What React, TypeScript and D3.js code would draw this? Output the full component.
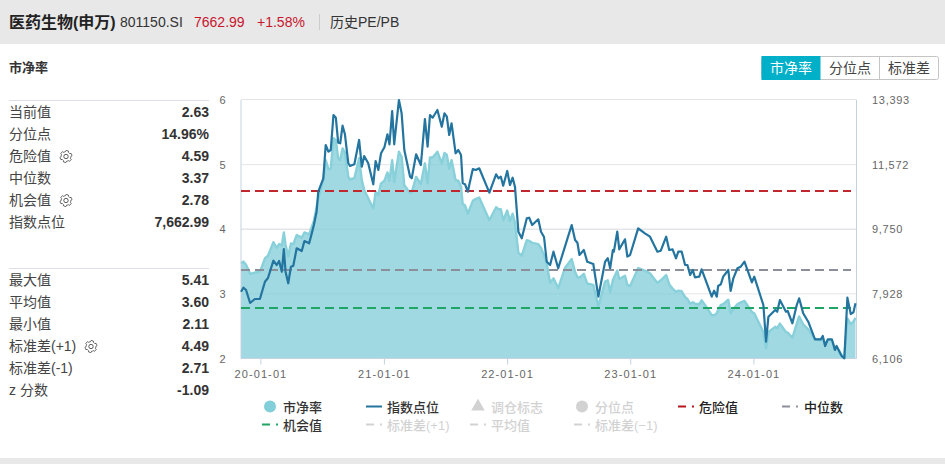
import React from "react";
import * as d3 from "d3";

const START = new Date(2019, 10, 3);
const dayOffsets = [
0,7,15,27,41,56,71,80,96,106,113,121,127,132,140,148,155,165,180,188,202,210,216,224,229,244,251,259,266,274,
281,288,294,301,308,318,323,336,350,358,365,377,392,399,407,415,425,434,440,448,454,468,476,484,501,506,519,533,545,553,
560,568,582,595,603,610,617,624,636,644,652,657,664,672,687,696,706,736,756,763,770,777,789,797,805,812,822,832,847,854,
863,881,889,898,906,916,926,940,960,980,990,997,1003,1016,1026,1044,1059,1079,1087,1094,1102,1105,1115,1121,1138,1145,1153,1177,1197,1212,
1234,1244,1260,1269,1279,1289,1296,1306,1316,1323,1331,1339,1345,1358,1365,1375,1395,1402,1410,1414,1422,1429,1444,1451,1459,1471,1481,1492,1514,1521,
1548,1556,1563,1583,1589,1597,1615,1620,1634,1647,1654,1666,1681,1701,1718,1724,1731,1739,1751,1760,1765,1780,1788,1797,1807,1815,1821,
];
const indexValues = [
7989,8102,8037,7671,7783,7783,8271,8375,8863,8742,8855,8553,9193,8553,8226,8694,8722,9213,9136,9418,9354,9644,9869,10244,10808,11186,12125,11936,11984,12970,
12894,12189,12172,12669,12426,11609,11533,11581,12266,11513,11814,11609,11017,11674,11420,11891,12060,12426,12144,13083,12144,13393,13018,11984,11231,11186,11862,11561,12858,12077,
12970,12894,13111,12641,13018,12922,12406,12736,11891,11984,11843,11045,11017,10808,11448,11420,11468,10780,11299,11186,11231,10977,11392,10997,11203,10941,9681,9494,10058,10075,
9869,10030,9681,9531,8835,8742,9117,8649,9258,9869,9447,9370,9024,9165,8835,8770,7848,8835,8931,8649,9165,9117,9681,9184,9466,8976,9024,9776,9635,9540,
9117,9145,9540,9165,9184,8931,9117,9117,8742,8742,8460,8601,8395,8412,8621,8367,7848,8017,7848,8150,8198,8412,8601,8009,8367,8649,8694,8835,8254,8412,
7614,6580,7284,7473,7425,7755,7425,7445,7098,7614,7803,7380,7143,6647,6647,6740,6458,6647,6647,6346,6458,6176,6111,7820,7360,7408,7662,
];
const pbValues = [
3.47,3.5,3.45,3.31,3.33,3.34,3.55,3.59,3.8,3.71,3.77,3.75,3.95,3.76,3.58,3.78,3.77,3.91,3.87,3.95,3.92,4.04,4.13,4.34,4.48,4.76,5.07,4.93,4.94,5.41,
5.38,5.1,5.07,5.25,5.19,4.81,4.77,4.79,5.1,4.76,4.61,4.48,4.32,4.58,4.53,4.71,4.75,4.88,4.75,5.07,4.73,5.2,5.12,4.68,4.56,4.57,4.81,4.7,5.02,4.71,
5.11,5.11,5.2,5.02,5.18,5.15,4.94,5.07,4.76,4.75,4.66,4.39,4.37,4.24,4.44,4.47,4.49,4.14,4.34,4.31,4.31,4.14,4.29,4.13,4.24,4.1,3.64,3.59,3.83,3.82,
3.79,3.77,3.71,3.6,3.47,3.17,3.24,3.09,3.4,3.54,3.34,3.26,3.25,3.31,3.16,3.14,2.81,3.19,3.21,3.03,3.21,3.25,3.36,3.23,3.28,3.14,3.12,3.4,3.36,3.32,
3.17,3.21,3.29,3.15,3.08,3.03,3.05,3.04,2.95,2.92,2.85,2.87,2.85,2.84,2.9,2.83,2.67,2.67,2.7,2.75,2.83,2.84,2.91,2.7,2.77,2.84,2.87,2.89,2.72,2.7,
2.41,2.16,2.41,2.49,2.47,2.54,2.41,2.4,2.32,2.54,2.65,2.53,2.45,2.3,2.29,2.32,2.22,2.29,2.28,2.16,2.18,2.05,2.02,2.62,2.53,2.57,2.63,
];
const DOMAIN_DAYS = 1824;
const pbTicks = [2, 3, 4, 5, 6];
const indexTicks = [6106, 7928, 9750, 11572, 13393];
const xTicks = [new Date(2020, 0, 1), new Date(2021, 0, 1), new Date(2022, 0, 1), new Date(2023, 0, 1), new Date(2024, 0, 1)];
const thresholds = [
  { value: 4.59, color: "#c0282d" },
  { value: 3.37, color: "#8a8f99" },
  { value: 2.78, color: "#1fa565" },
];
const statsTop = [
  ["当前值", "2.63", false], ["分位点", "14.96%", false], ["危险值", "4.59", true],
  ["中位数", "3.37", false], ["机会值", "2.78", true], ["指数点位", "7,662.99", false],
] as const;
const statsBottom = [
  ["最大值", "5.41", false], ["平均值", "3.60", false], ["最小值", "2.11", false],
  ["标准差(+1)", "4.49", true], ["标准差(-1)", "2.71", false], ["z 分数", "-1.09", false],
] as const;
const buttons = ["市净率", "分位点", "标准差"];

const FONT = "'Liberation Sans','Noto Sans CJK SC',sans-serif";
const L = 241, R = 856.5, T = 100, B = 358.5;

const dayToDate = (d: number) => d3.timeDay.offset(START, d);
const x = d3.scaleTime().domain([START, dayToDate(DOMAIN_DAYS)]).range([L, R]);
const yPB = d3.scaleLinear().domain([2, 6]).range([B, T]);
const yIdx = d3.scaleLinear().domain([6106, 13393]).range([B, T]);
const fmtTick = d3.timeFormat("%y-%m-%d");
const fmtComma = d3.format(",");

const areaGen = d3.area<number>()
  .x((_, i) => x(dayToDate(dayOffsets[i])))
  .y0(B)
  .y1((d) => yPB(d));
const pbLine = d3.line<number>()
  .x((_, i) => x(dayToDate(dayOffsets[i])))
  .y((d) => yPB(d));
const idxLine = d3.line<number>()
  .x((_, i) => x(dayToDate(dayOffsets[i])))
  .y((d) => yIdx(d));

const gearAngles = d3.range(0, 48);
const gearPath = d3.lineRadial<number>()
  .angle((i) => (i / 48) * 2 * Math.PI)
  .radius((i) => (i % 8 < 4 ? 6 : 4.8))
  .curve(d3.curveLinearClosed)(gearAngles) ?? "";

function Gear({ cx, cy }: { cx: number; cy: number }) {
  return (
    <g fill="none" stroke="#5c5c5c" strokeWidth={1} transform={`translate(${cx},${cy})`}>
      <path d={gearPath} />
      <circle r={2.2} />
    </g>
  );
}

function Stats({ rows, top }: { rows: readonly (readonly [string, string, boolean])[]; top: number }) {
  return (
    <g>
      <line x1={9} x2={209} y1={top + 0.5} y2={top + 0.5} stroke="#dcdfe3" strokeWidth={1} />
      {rows.map((r, i) => {
        const cy = top + 12 + i * 22;
        const labelW = r[0].startsWith("标准差") ? 82 : 57;
        return (
          <g key={r[0]}>
            <text x={9} y={cy + 5} fontSize={14} fill="#444">{r[0]}</text>
            <text x={209} y={cy + 5} fontSize={14} fontWeight={700} fill="#333" textAnchor="end">{r[1]}</text>
            {r[2] && <Gear cx={9 + labelW} cy={cy + 0.5} />}
          </g>
        );
      })}
    </g>
  );
}

function DashKey({ x0, y0, color }: { x0: number; y0: number; color: string }) {
  return (
    <g stroke={color} strokeWidth={2}>
      <line x1={x0} x2={x0 + 8} y1={y0} y2={y0} />
      <line x1={x0 + 14} x2={x0 + 16} y1={y0} y2={y0} />
    </g>
  );
}

export default function App() {
  const r1 = 406.5, r2 = 424.5;
  const off = "#d2d2d2";
  const areaD = areaGen(pbValues) ?? "";
  return (
    <svg width={945} height={464} style={{ position: "absolute", left: 0, top: 0, display: "block" }} fontFamily={FONT}>
      <defs>
        <clipPath id="pb-area"><path d={areaD} /></clipPath>
      </defs>
      <rect width={945} height={464} fill="#fff" />
      <rect width={945} height={44} fill="#e8e8e8" />
      <rect y={458} width={945} height={6} fill="#e8e8e8" />
      <text x={9} y={28} fontSize={16} fontWeight={700} fill="#222">医药生物(申万)</text>
      <text x={120} y={27} fontSize={14} fill="#333">801150.SI</text>
      <text x={194} y={27} fontSize={14} fill="#c7162e">7662.99</text>
      <text x={257} y={27} fontSize={14} fill="#c7162e">+1.58%</text>
      <line x1={319.5} x2={319.5} y1={14} y2={30} stroke="#ccc" />
      <text x={330} y={27} fontSize={14} fill="#333">历史PE/PB</text>
      <text x={9} y={72} fontSize={13} fontWeight={700} fill="#333">市净率</text>

      <rect x={761.5} y={56.5} width={177} height={23} rx={2} fill="#fff" stroke="#c4c4c4" />
      <rect x={761.5} y={56} width={59} height={24} fill="#00b0c9" />
      <line x1={879.5} x2={879.5} y1={56} y2={80} stroke="#c4c4c4" />
      {buttons.map((b, i) => (
        <text key={b} x={791 + i * 59} y={73} fontSize={14} textAnchor="middle" fill={i === 0 ? "#fff" : "#444"}>{b}</text>
      ))}

      <Stats rows={statsTop} top={100} />
      <Stats rows={statsBottom} top={268} />

      {/* grid */}
      <line x1={L} x2={R} y1={99.5} y2={99.5} stroke="#e2e4e8" />
      {pbTicks.slice(1, 4).map((t) => (
        <line key={t} x1={L} x2={R} y1={yPB(t)} y2={yPB(t)} stroke="#e3e5e9" strokeWidth={t === 4 ? 1.5 : 1} />
      ))}

      <path d={areaD} fill="#a0d9e2" />
      <path d={pbLine(pbValues) ?? ""} fill="none" stroke="#88d0da" strokeWidth={2.4} strokeLinejoin="round" />
      <g clipPath="url(#pb-area)">
        {pbTicks.slice(1, 4).map((t) => (
          <line key={t} x1={L} x2={R} y1={yPB(t)} y2={yPB(t)} stroke="#8cc6d0" strokeOpacity={0.3} />
        ))}
      </g>

      {/* axes */}
      <line x1={241} x2={241} y1={T} y2={B} stroke="#c6d2e2" strokeWidth={1} />
      <line x1={856.5} x2={856.5} y1={T} y2={B} stroke="#c6d2e2" strokeWidth={1} />
      <line x1={L} x2={R} y1={B} y2={B} stroke="#c6d2e2" strokeWidth={1} />
      {xTicks.map((t) => (
        <g key={+t}>
          <line x1={x(t)} x2={x(t)} y1={B} y2={B + 6} stroke="#c6d2e2" />
          <text x={x(t)} y={378} fontSize={11} fill="#666" textAnchor="middle" letterSpacing={1.1}>{fmtTick(t)}</text>
        </g>
      ))}
      {pbTicks.map((t) => (
        <text key={t} x={222.5} y={yPB(t) + 4} fontSize={11} fill="#666" textAnchor="middle">{t}</text>
      ))}
      {indexTicks.map((t) => (
        <text key={t} x={872} y={yIdx(t) + 4} fontSize={11} fill="#666" letterSpacing={0.7}>{fmtComma(t)}</text>
      ))}

      {thresholds.map((th) => (
        <line key={th.value} x1={L} x2={851} y1={yPB(th.value)} y2={yPB(th.value)} stroke={th.color} strokeWidth={2} strokeDasharray="9 5" />
      ))}

      <path d={idxLine(indexValues) ?? ""} fill="none" stroke="#23749f" strokeWidth={2.2} strokeLinejoin="round" />

      {/* legend */}
      <g fontSize={13} fontWeight={500}>
        <circle cx={270} cy={r1} r={6} fill="#82ced9" />
        <text x={283} y={r1 + 5} fill="#333">市净率</text>
        <line x1={366} x2={382} y1={r1} y2={r1} stroke="#23749f" strokeWidth={2} />
        <text x={387} y={r1 + 5} fill="#333">指数点位</text>
        <path d={d3.symbol(d3.symbolTriangle, 80)() ?? ""} transform={`translate(478,${r1})`} fill={off} />
        <text x={491} y={r1 + 5} fill={off}>调仓标志</text>
        <circle cx={582} cy={r1} r={6} fill={off} />
        <text x={595} y={r1 + 5} fill={off}>分位点</text>
        <DashKey x0={678} y0={r1} color="#b5171d" />
        <text x={699} y={r1 + 5} fill="#222">危险值</text>
        <DashKey x0={782} y0={r1} color="#8a8f99" />
        <text x={804} y={r1 + 5} fill="#222">中位数</text>

        <DashKey x0={262} y0={r2} color="#1fa565" />
        <text x={283} y={r2 + 5} fill="#333">机会值</text>
        <DashKey x0={366} y0={r2} color={off} />
        <text x={387} y={r2 + 5} fill={off}>标准差(+1)</text>
        <DashKey x0={470} y0={r2} color={off} />
        <text x={491} y={r2 + 5} fill={off}>平均值</text>
        <DashKey x0={574} y0={r2} color={off} />
        <text x={595} y={r2 + 5} fill={off}>标准差(−1)</text>
      </g>
    </svg>
  );
}
